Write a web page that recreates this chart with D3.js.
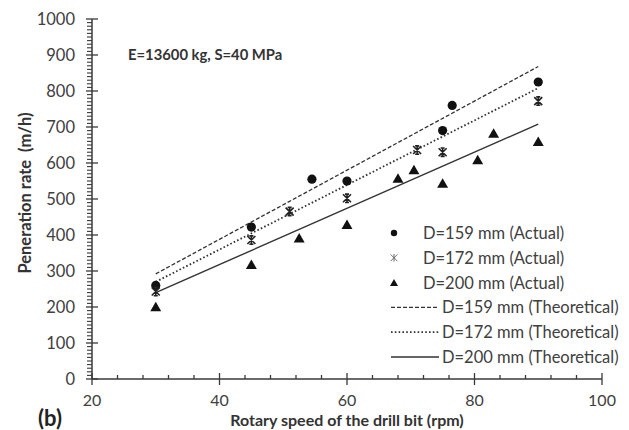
<!DOCTYPE html>
<html>
<head>
<meta charset="utf-8">
<script src="https://cdn.jsdelivr.net/npm/d3@7"></script>
<style>
  body { margin: 0; background: #fff; }
  text { font-family: Lato, "Liberation Sans", sans-serif; }
</style>
</head>
<body>
<div id="chart"></div>
<script>
// data: [rpm, rate]
const d159Actual = [[30, 260], [45, 422], [54.5, 555], [60, 550], [75, 690], [76.5, 760], [90, 825]];
const d172Actual = [[30, 243], [45, 386], [51, 465], [60, 502], [71, 636], [75, 630], [90, 772]];
const d200Actual = [[30, 200], [45, 317], [52.5, 391], [60, 428], [68, 557], [70.5, 580], [75, 543], [80.5, 608], [83, 682], [90, 659]];
const d159Theory = [[30, 292], [90, 868]];
const d172Theory = [[30, 270], [90, 808]];
const d200Theory = [[30, 240], [90, 708]];

const xTicks = [20, 40, 60, 80, 100];
const yTicks = [0, 100, 200, 300, 400, 500, 600, 700, 800, 900, 1000];

const legendLabels = [
    'D=159 mm (Actual)',
    'D=172 mm (Actual)',
    'D=200 mm (Actual)',
    'D=159 mm (Theoretical)',
    'D=172 mm (Theoretical)',
    'D=200 mm (Theoretical)'
];

// FIGURE DIMENSIONS
const FIGURE = { WIDTH: 629, HEIGHT: 430 };
const PLOT = { LEFT: 92, RIGHT: 602, TOP: 19, BOTTOM: 379 };

const x = d3.scaleLinear().domain([20, 100]).range([PLOT.LEFT, PLOT.RIGHT]);
const y = d3.scaleLinear().domain([0, 1000]).range([PLOT.BOTTOM, PLOT.TOP]);

const INK = '#3a3a3a';
const LABEL = '#404040';

const svg = d3.select('#chart')
    .append('svg')
        .attr('width', FIGURE.WIDTH)
        .attr('height', FIGURE.HEIGHT);

// minor ticks
const xMinor = d3.range(20, 100.01, 4).filter(v => v % 20 !== 0);
const yMinor = d3.range(0, 1000.01, 10).filter(v => v % 100 !== 0);

svg.append('g')
    .selectAll('line')
    .data(xMinor)
    .join('line')
        .attr('x1', d => x(d)).attr('x2', d => x(d))
        .attr('y1', y(0)).attr('y2', y(0) - 4)
        .attr('stroke', INK).attr('stroke-width', 1.3);

svg.append('g')
    .selectAll('line')
    .data(yMinor)
    .join('line')
        .attr('x1', x(20) - 5).attr('x2', x(20))
        .attr('y1', d => y(d)).attr('y2', d => y(d))
        .attr('stroke', INK).attr('stroke-width', 1.1);

// major ticks, crossing the axis
svg.append('g')
    .selectAll('line')
    .data(xTicks)
    .join('line')
        .attr('x1', d => x(d)).attr('x2', d => x(d))
        .attr('y1', y(0) - 6).attr('y2', y(0) + 6)
        .attr('stroke', INK).attr('stroke-width', 1.3);

svg.append('g')
    .selectAll('line')
    .data(yTicks)
    .join('line')
        .attr('x1', x(20) - 6).attr('x2', x(20) + 6)
        .attr('y1', d => y(d)).attr('y2', d => y(d))
        .attr('stroke', INK).attr('stroke-width', 1.3);

// axis lines
svg.append('line')
    .attr('x1', x(20)).attr('x2', x(100))
    .attr('y1', y(0)).attr('y2', y(0))
    .attr('stroke', INK).attr('stroke-width', 1.5);
svg.append('line')
    .attr('x1', x(20)).attr('x2', x(20))
    .attr('y1', y(0)).attr('y2', y(1000))
    .attr('stroke', INK).attr('stroke-width', 1.5);

// tick labels
svg.append('g')
    .selectAll('text')
    .data(xTicks)
    .join('text')
        .attr('x', d => x(d))
        .attr('y', 406)
        .attr('text-anchor', 'middle')
        .attr('font-size', 16)
        .attr('fill', LABEL)
        .text(d => d);

svg.append('g')
    .selectAll('text')
    .data(yTicks)
    .join('text')
        .attr('x', 75)
        .attr('y', d => y(d) + 6)
        .attr('text-anchor', 'end')
        .attr('font-size', 16.5)
        .attr('fill', LABEL)
        .text(d => d);

// titles
svg.append('text')
    .attr('x', 347).attr('y', 426)
    .attr('text-anchor', 'middle')
    .attr('font-size', 16)
    .attr('font-weight', 'bold')
    .attr('fill', '#333')
    .text('Rotary speed of the drill bit (rpm)');

svg.append('text')
    .attr('transform', 'translate(31, 193) rotate(-90)')
    .attr('text-anchor', 'middle')
    .attr('font-size', 16.5)
    .attr('font-weight', 'bold')
    .attr('fill', '#333')
    .attr('xml:space', 'preserve')
    .text('Peneration rate  (m/h)');

svg.append('text')
    .attr('x', 38).attr('y', 426)
    .attr('font-size', 22)
    .attr('font-weight', 'bold')
    .attr('fill', '#222')
    .text('(b)');

svg.append('text')
    .attr('x', 128).attr('y', 60)
    .attr('font-size', 14.8)
    .attr('font-weight', 'bold')
    .attr('fill', '#333')
    .text('E=13600 kg, S=40 MPa');

// theoretical lines
const line = d3.line().x(d => x(d[0])).y(d => y(d[1]));
const lineStyles = [
    { data: d159Theory, dash: '4,2', width: 1.3 },
    { data: d172Theory, dash: '1.6,2.2', width: 1.8 },
    { data: d200Theory, dash: null, width: 1.4 }
];

svg.append('g')
    .selectAll('path')
    .data(lineStyles)
    .join('path')
        .attr('d', d => line(d.data))
        .attr('fill', 'none')
        .attr('stroke', '#333')
        .attr('stroke-width', d => d.width)
        .attr('stroke-dasharray', d => d.dash);

// markers
const triangle = d3.symbol().type(d3.symbolTriangle).size(52);
const star = 'M-4,-4L4,4M-4,4L4,-4M0,-4.5L0,4.5M-2,-4.2L2,-4.2M-2,4.2L2,4.2';

svg.append('g')
    .selectAll('circle')
    .data(d159Actual)
    .join('circle')
        .attr('cx', d => x(d[0]))
        .attr('cy', d => y(d[1]))
        .attr('r', 4.6)
        .attr('fill', '#111');

svg.append('g')
    .selectAll('path')
    .data(d172Actual)
    .join('path')
        .attr('transform', d => `translate(${x(d[0])}, ${y(d[1])})`)
        .attr('d', star)
        .attr('fill', 'none')
        .attr('stroke', '#222')
        .attr('stroke-width', 1.6);

svg.append('g')
    .selectAll('path')
    .data(d200Actual)
    .join('path')
        .attr('transform', d => `translate(${x(d[0])}, ${y(d[1]) + 1})`)
        .attr('d', triangle)
        .attr('fill', '#111');

// legend
const legend = svg.append('g');
const LEG = { X: 394, Y: 233, STEP: 24.8 };

legend.append('circle')
    .attr('cx', LEG.X).attr('cy', LEG.Y)
    .attr('r', 3.2).attr('fill', '#111');
legend.append('path')
    .attr('transform', `translate(${LEG.X}, ${LEG.Y + LEG.STEP}) scale(0.85)`)
    .attr('d', 'M-4,-4L4,4M-4,4L4,-4M0,-4.5L0,4.5')
    .attr('fill', 'none').attr('stroke', '#666').attr('stroke-width', 1.1);
legend.append('path')
    .attr('transform', `translate(${LEG.X}, ${LEG.Y + 2 * LEG.STEP + 1})`)
    .attr('d', d3.symbol().type(d3.symbolTriangle).size(28))
    .attr('fill', '#111');

legend.selectAll('line')
    .data(lineStyles)
    .join('line')
        .attr('x1', 391).attr('x2', 439)
        .attr('y1', (d, i) => LEG.Y + (i + 3) * LEG.STEP)
        .attr('y2', (d, i) => LEG.Y + (i + 3) * LEG.STEP)
        .attr('stroke', '#333')
        .attr('stroke-width', d => d.width)
        .attr('stroke-dasharray', d => d.dash);

legend.selectAll('text')
    .data(legendLabels)
    .join('text')
        .attr('x', (d, i) => i < 3 ? 423 : 442)
        .attr('y', (d, i) => LEG.Y + i * LEG.STEP + 6)
        .attr('font-size', 16.5)
        .attr('fill', LABEL)
        .text(d => d);
</script>
</body>
</html>
